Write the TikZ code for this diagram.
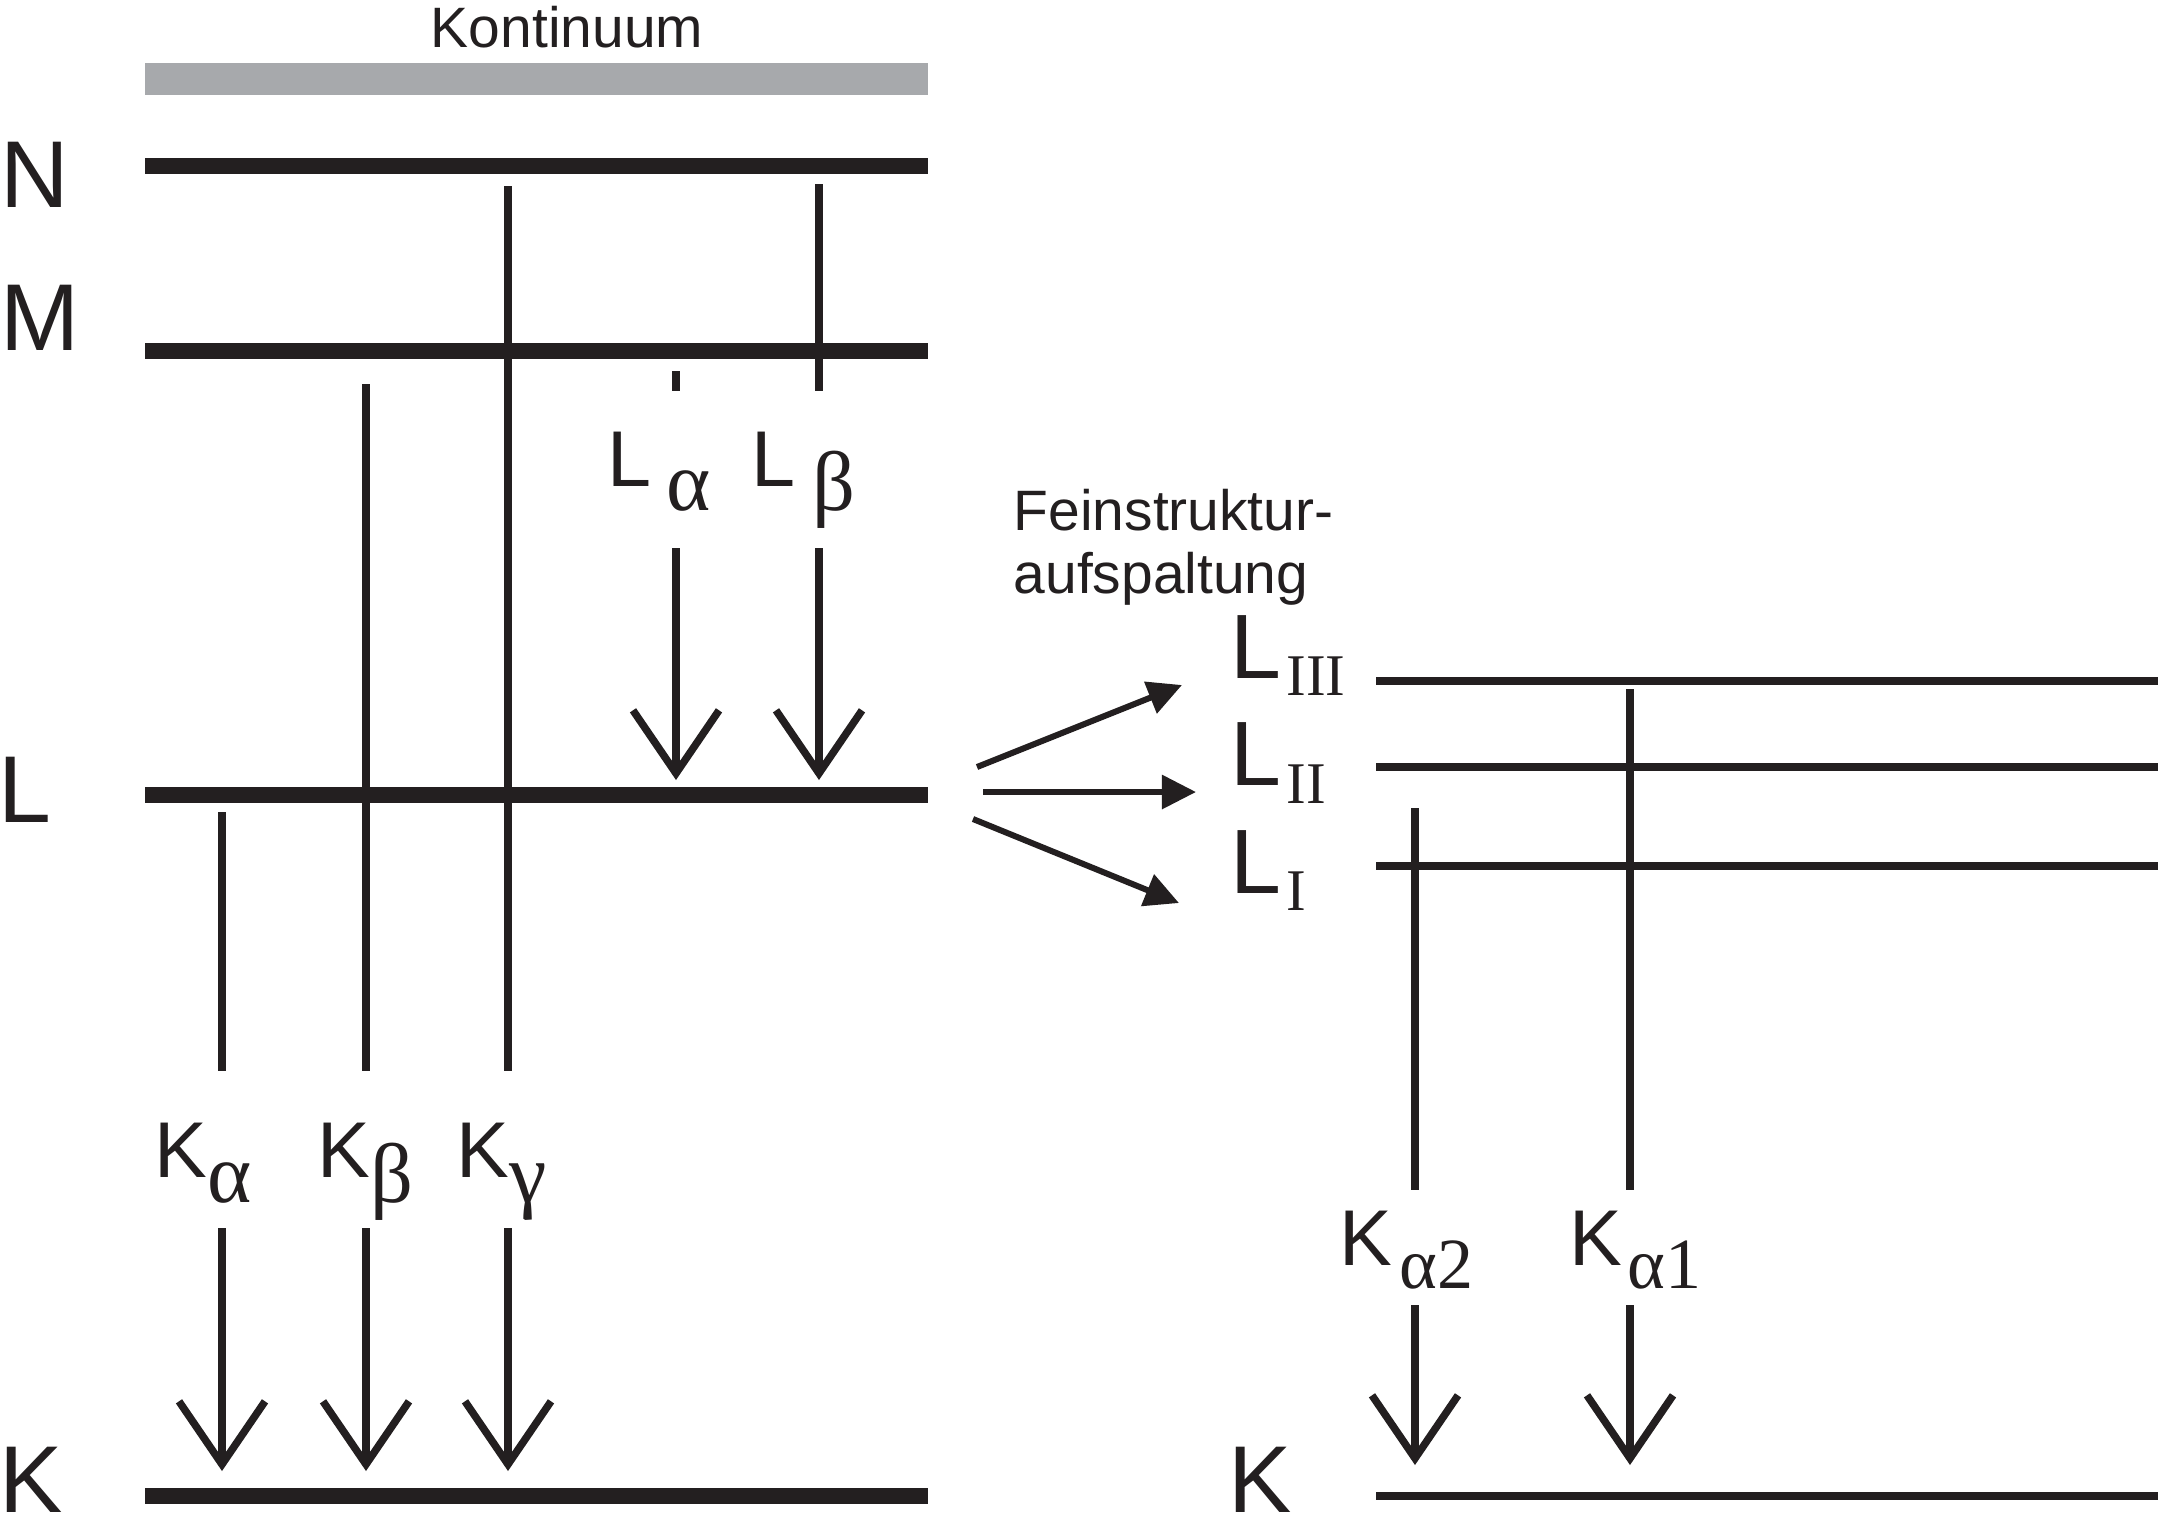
\documentclass[tikz,border=0pt]{standalone}
\usepackage{fontspec}
\setmainfont{Liberation Sans}
\newfontfamily\grfont{Liberation Serif}
\usetikzlibrary{arrows.meta}

\definecolor{ink}{RGB}{35,31,32}
\definecolor{contgray}{RGB}{167,169,172}

\newcommand{\lowsub}[3][24]{\raisebox{-#2}{\fontsize{#1}{#1}\selectfont\grfont #3}}

\tikzset{
	shellline/.style={ink, line width=0.16cm},
	fineline/.style={ink, line width=0.08cm},
	trans/.style={ink, line width=0.075cm},
	emit/.style={trans, -{Straight Barb[length=0.63cm, width=0.86cm, line cap=butt, line join=miter]}},
	split/.style={ink, line width=0.06cm, -{Triangle[length=0.34cm, width=0.33cm]}},
	shell/.style={ink, anchor=base west, inner sep=0pt, font=\fontsize{27}{27}\selectfont},
	fineshell/.style={ink, anchor=base west, inner sep=0pt, font=\fontsize{26}{26}\selectfont},
	linelabel/.style={ink, anchor=base west, inner sep=0pt, font=\fontsize{22.5}{22.5}\selectfont},
	note/.style={ink, inner sep=0pt, font=\fontsize{16.2}{17.9}\selectfont}
}

\begin{document}
\begin{tikzpicture}[x=0.01cm, y=-0.01cm]
	\useasboundingbox (0,0) rectangle (2166,1526);

	\node [note, anchor=base] (kont) at (567,47) {Kontinuum};
	\node [shell] (N) at (0,207) {N};
	\node [shell] (M) at (0,350) {M};
	\node [shell] (L) at (-2,822) {L};
	\node [shell] (K) at (-1,1512) {K};

	\coordinate (C0) at (145,79);	\coordinate (C1) at (928,79);
	\coordinate (N0) at (145,166);	\coordinate (N1) at (928,166);
	\coordinate (M0) at (145,351);	\coordinate (M1) at (928,351);
	\coordinate (L0) at (145,795);	\coordinate (L1) at (928,795);
	\coordinate (K0) at (145,1496);	\coordinate (K1) at (928,1496);

	\draw [contgray, line width=0.32cm] (C0) -- (C1);
	\draw [shellline] (N0) -- (N1);
	\draw [shellline] (M0) -- (M1);
	\draw [shellline] (L0) -- (L1);
	\draw [shellline] (K0) -- (K1);

	% K series
	\coordinate (ka0) at (222,812);	\coordinate (ka1) at (222,1071);
	\coordinate (ka2) at (222,1228);	\coordinate (ka3) at (222,1471);
	\coordinate (kb0) at (366,384);	\coordinate (kb1) at (366,1071);
	\coordinate (kb2) at (366,1228);	\coordinate (kb3) at (366,1471);
	\coordinate (kg0) at (508,186);	\coordinate (kg1) at (508,1071);
	\coordinate (kg2) at (508,1228);	\coordinate (kg3) at (508,1471);

	\node [linelabel] (Ka) at (154,1177) {K\lowsub{0.25cm}{α}};
	\node [linelabel] (Kb) at (317,1177) {K\lowsub{0.25cm}{β}};
	\node [linelabel] (Kg) at (456,1177) {K\lowsub{0.25cm}{γ}};

	\draw [trans] (ka0) -- (ka1);
	\draw [trans] (kb0) -- (kb1);
	\draw [trans] (kg0) -- (kg1);
	\draw [emit] (ka2) -- (ka3);
	\draw [emit] (kb2) -- (kb3);
	\draw [emit] (kg2) -- (kg3);

	% L series
	\coordinate (la0) at (676,371);	\coordinate (la1) at (676,391);
	\coordinate (la2) at (676,548);	\coordinate (la3) at (676,780);
	\coordinate (lb0) at (819,184);	\coordinate (lb1) at (819,391);
	\coordinate (lb2) at (819,548);	\coordinate (lb3) at (819,780);

	\node [linelabel] (La) at (607,486) {L\hspace{0.15cm}\lowsub{0.24cm}{α}};
	\node [linelabel] (Lb) at (751,486) {L\hspace{0.17cm}\lowsub{0.24cm}{β}};

	\draw [trans] (la0) -- (la1);
	\draw [trans] (lb0) -- (lb1);
	\draw [emit] (la2) -- (la3);
	\draw [emit] (lb2) -- (lb3);

	% fine structure
	\node [note, anchor=base west, align=left] (fein) at (1013,593) {Feinstruktur-\\aufspaltung};

	\coordinate (s30) at (977,767);	\coordinate (s31) at (1182,685);
	\coordinate (s20) at (983,792);	\coordinate (s21) at (1196,792);
	\coordinate (s10) at (973,819);	\coordinate (s11) at (1179,903);
	\draw [split] (s30) -- (s31);
	\draw [split] (s20) -- (s21);
	\draw [split] (s10) -- (s11);

	\node [fineshell] (L3) at (1230,678) {L\kern0.05cm\lowsub[16.8]{0.17cm}{III}};
	\node [fineshell] (L2) at (1230,785) {L\kern0.05cm\lowsub[16.8]{0.18cm}{II}};
	\node [fineshell] (L1) at (1230,893) {L\kern0.05cm\lowsub[16.8]{0.17cm}{I}};
	\node [shell] (Kr) at (1228,1512) {K};

	\coordinate (R30) at (1376,681);	\coordinate (R31) at (2158,681);
	\coordinate (R20) at (1376,767);	\coordinate (R21) at (2158,767);
	\coordinate (R10) at (1376,866);	\coordinate (R11) at (2158,866);
	\coordinate (RK0) at (1376,1496);	\coordinate (RK1) at (2158,1496);

	\draw [fineline] (R30) -- (R31);
	\draw [fineline] (R20) -- (R21);
	\draw [fineline] (R10) -- (R11);
	\draw [fineline] (RK0) -- (RK1);

	\coordinate (a20) at (1415,808);	\coordinate (a21) at (1415,1190);
	\coordinate (a22) at (1415,1305);	\coordinate (a23) at (1415,1465);
	\coordinate (a10) at (1630,689);	\coordinate (a11) at (1630,1190);
	\coordinate (a12) at (1630,1305);	\coordinate (a13) at (1630,1465);

	\node [linelabel] (Ka2) at (1339,1265) {K\kern0.07cm\lowsub[20.5]{0.23cm}{α2}};
	\node [linelabel] (Ka1) at (1569,1265) {K\kern0.05cm\lowsub[20.5]{0.23cm}{α1}};

	\draw [trans] (a20) -- (a21);
	\draw [trans] (a10) -- (a11);
	\draw [emit] (a22) -- (a23);
	\draw [emit] (a12) -- (a13);
\end{tikzpicture}
\end{document}
